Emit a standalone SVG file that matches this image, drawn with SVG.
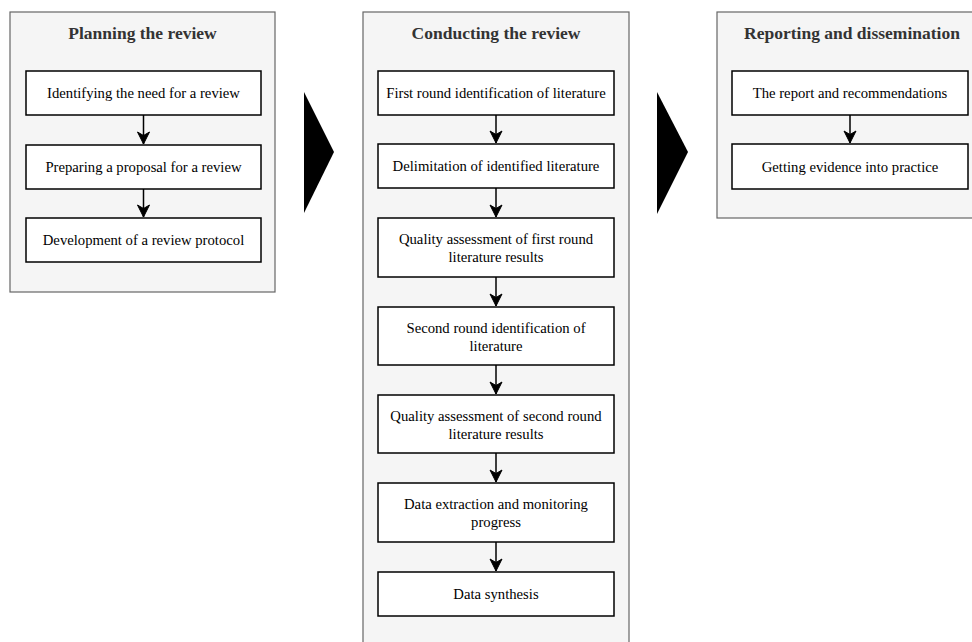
<svg xmlns="http://www.w3.org/2000/svg" width="972" height="642" viewBox="0 0 972 642">
<style>
.cont{fill:#f5f5f5;stroke:#666;stroke-width:1.2}
.box{fill:#fff;stroke:#000;stroke-width:1.5}
.title{font-family:"Liberation Serif",serif;font-size:17.5px;font-weight:bold;fill:#333;text-anchor:middle}
.lbl{font-family:"Liberation Serif",serif;font-size:14.7px;fill:#000;text-anchor:middle}
.edge{stroke:#000;stroke-width:1.5;fill:none;marker-end:url(#ah)}
</style>
<defs>
<marker id="ah" markerUnits="userSpaceOnUse" markerWidth="14" markerHeight="14" viewBox="0 0 14 14" refX="13" refY="7" orient="auto">
<path d="M1,1 L13,7 L1,13 L4.5,7 Z" fill="#000" stroke="#000" stroke-width="1"/>
</marker>
</defs>
<rect width="972" height="642" fill="#fff"/>
<g id="planning">
<rect class="cont" x="10" y="12" width="265" height="280"/>
<text class="title" x="142.5" y="39">Planning the review</text>
</g>
<g id="conducting">
<rect class="cont" x="363" y="12" width="266" height="645"/>
<text class="title" x="496" y="39">Conducting the review</text>
</g>
<g id="reporting">
<rect class="cont" x="717" y="12" width="270" height="206"/>
<text class="title" x="852" y="39">Reporting and dissemination</text>
</g>
<g id="chevron1"><polygon points="304,92 334,152 304,213" fill="#000"/></g>
<g id="chevron2"><polygon points="657,92 688,152 657,214" fill="#000"/></g>
<g id="L1"><rect class="box" x="26" y="71" width="235" height="44"/><text class="lbl" x="143.5" y="98">Identifying the need for a review</text></g>
<g id="L2"><rect class="box" x="26" y="145" width="235" height="44"/><text class="lbl" x="143.5" y="172">Preparing a proposal for a review</text></g>
<g id="L3"><rect class="box" x="26" y="218" width="235" height="44"/><text class="lbl" x="143.5" y="245">Development of a review protocol</text></g>
<g id="M1"><rect class="box" x="378" y="71" width="236" height="44"/><text class="lbl" x="496" y="98">First round identification of literature</text></g>
<g id="M2"><rect class="box" x="378" y="144" width="236" height="44"/><text class="lbl" x="496" y="171">Delimitation of identified literature</text></g>
<g id="M3"><rect class="box" x="378" y="218" width="236" height="59"/><text class="lbl" x="496" y="244">Quality assessment of first round</text><text class="lbl" x="496" y="262">literature results</text></g>
<g id="M4"><rect class="box" x="378" y="307" width="236" height="58"/><text class="lbl" x="496" y="332.5">Second round identification of</text><text class="lbl" x="496" y="350.5">literature</text></g>
<g id="M5"><rect class="box" x="378" y="395" width="236" height="58"/><text class="lbl" x="496" y="420.5">Quality assessment of second round</text><text class="lbl" x="496" y="438.5">literature results</text></g>
<g id="M6"><rect class="box" x="378" y="483" width="236" height="59"/><text class="lbl" x="496" y="509">Data extraction and monitoring</text><text class="lbl" x="496" y="527">progress</text></g>
<g id="M7"><rect class="box" x="378" y="572" width="236" height="44"/><text class="lbl" x="496" y="599">Data synthesis</text></g>
<g id="R1"><rect class="box" x="732" y="71" width="236" height="44"/><text class="lbl" x="850" y="98">The report and recommendations</text></g>
<g id="R2"><rect class="box" x="732" y="144" width="236" height="45"/><text class="lbl" x="850" y="171.5">Getting evidence into practice</text></g>
<g id="connectors">
<line class="edge" x1="143.5" y1="115" x2="143.5" y2="144"/>
<line class="edge" x1="143.5" y1="189" x2="143.5" y2="217"/>
<line class="edge" x1="496" y1="115" x2="496" y2="143"/>
<line class="edge" x1="496" y1="188" x2="496" y2="217"/>
<line class="edge" x1="496" y1="277" x2="496" y2="306"/>
<line class="edge" x1="496" y1="365" x2="496" y2="394"/>
<line class="edge" x1="496" y1="453" x2="496" y2="482"/>
<line class="edge" x1="496" y1="542" x2="496" y2="571"/>
<line class="edge" x1="850" y1="115" x2="850" y2="143"/>
</g>
</svg>
